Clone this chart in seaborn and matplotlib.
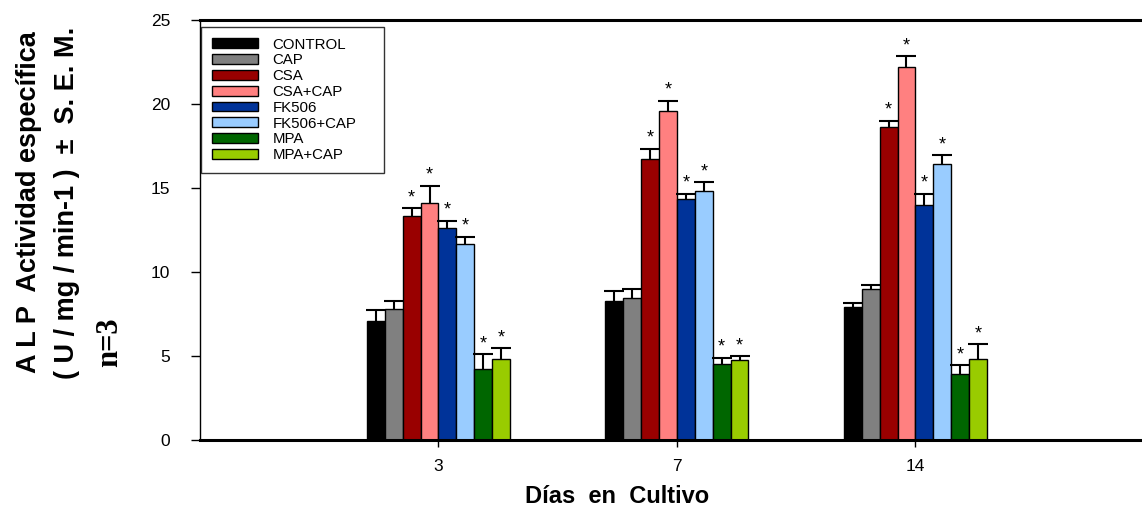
import numpy as np
import pandas as pd
import matplotlib
matplotlib.use('Agg')
import matplotlib.pyplot as plt
import seaborn as sns

days = ['3', '7', '14']
groups = ['CONTROL', 'CAP', 'CSA', 'CSA+CAP', 'FK506', 'FK506+CAP', 'MPA', 'MPA+CAP']
colors = ['#000000', '#808080', '#990000', '#FF8080', '#003399', '#99CCFF', '#006600', '#99CC00']

# mean values per group, one list per day
vals_d3  = [7.1, 7.8, 13.35, 14.1, 12.65, 11.65, 4.2, 4.85]
vals_d7  = [8.3, 8.45, 16.75, 19.6, 14.35, 14.85, 4.55, 4.75]
vals_d14 = [7.9, 9.0, 18.65, 22.2, 14.0, 16.45, 3.95, 4.8]
# S.E.M.
err_d3  = [0.65, 0.45, 0.45, 1.05, 0.4, 0.45, 0.9, 0.6]
err_d7  = [0.55, 0.55, 0.6, 0.6, 0.3, 0.5, 0.35, 0.25]
err_d14 = [0.25, 0.25, 0.35, 0.65, 0.65, 0.5, 0.5, 0.9]
# significance marks
signif = [False, False, True, True, True, True, True, True]

rows = []
for d, vals, errs in zip(days, [vals_d3, vals_d7, vals_d14], [err_d3, err_d7, err_d14]):
    for g, v, e, s in zip(groups, vals, errs, signif):
        rows.append({'Day': d, 'Group': g, 'Value': v, 'Err': e, 'Sig': s})
df = pd.DataFrame(rows)

sns.set_style('ticks', {'text.color': 'black', 'xtick.color': 'black', 'ytick.color': 'black',
                        'axes.edgecolor': 'black', 'axes.labelcolor': 'black'})
plt.rcParams['font.family'] = ['Liberation Sans', 'DejaVu Sans']

fig = plt.figure(figsize=(11.42, 5.15), dpi=100)
ax = fig.add_axes([0.1751, 0.1456, 0.8249, 0.8155])

sns.barplot(data=df, x='Day', y='Value', hue='Group', order=days, hue_order=groups,
            palette=dict(zip(groups, colors)), width=0.6, gap=0, errorbar=None,
            edgecolor='black', linewidth=1, saturation=1, ax=ax, legend=True)

# one-sided error bars and stars, taken from the bar patches
bars = [p for p in ax.patches if p.get_height() > 0][:len(df)]
for i, g in enumerate(groups):
    for j, d in enumerate(days):
        p = bars[i * len(days) + j]
        r = df[(df.Group == g) & (df.Day == d)].iloc[0]
        xc = p.get_x() + p.get_width() / 2
        top = r.Value + r.Err
        ax.plot([xc, xc], [r.Value, top], color='black', lw=1.5, zorder=5)
        ax.plot([xc], [top], marker='_', markersize=14, mew=1.5, color='black', zorder=5)
        if r.Sig:
            ax.text(xc, top + 0.12, '*', ha='center', va='bottom', fontsize=13, color='black')

ax.set_xlim(-1, 2.95)
ax.set_ylim(0, 25)
ax.set_yticks([0, 5, 10, 15, 20, 25])
ax.tick_params(axis='y', direction='out', length=6.5, width=1, labelsize=12.5, pad=15,
               colors='black')
ax.tick_params(axis='x', direction='out', length=5, width=1, labelsize=12.5, pad=9,
               colors='black')
ax.set_xlabel('')
ax.set_ylabel('')
ax.spines['top'].set_linewidth(2.2)
ax.spines['bottom'].set_linewidth(2.2)
ax.spines['left'].set_linewidth(1)
ax.spines['right'].set_visible(False)

leg = ax.legend(loc='upper left', bbox_to_anchor=(0.001, 0.984, 0.194, 0.0), mode='expand',
                fontsize=10.8, frameon=True, fancybox=False, edgecolor='black',
                handlelength=3.1, handleheight=0.64, labelspacing=0.12, borderpad=0.72,
                handletextpad=0.96, borderaxespad=0)
leg.get_frame().set_linewidth(1)
for t in leg.get_texts():
    t.set_color('black')

# y label lines
fig.text(0.025, 0.608, 'A L P  Actividad específica', rotation=90, ha='center', va='center',
         fontsize=19.5, fontweight='bold', color='black')
fig.text(0.059, 0.606, '( U / mg / min-1 )  ±  S. E. M.', rotation=90, ha='center', va='center',
         fontsize=19.5, fontweight='bold', color='black')
fig.text(0.096, 0.336, 'n=3', rotation=90, ha='center', va='center', fontsize=22,
         fontweight='bold', color='black', family=['Liberation Serif', 'DejaVu Serif'])

fig.text(0.540, 0.035, 'Días  en  Cultivo', ha='center', va='center', fontsize=17,
         fontweight='bold', color='black')

fig.savefig('out.png', dpi=100)
